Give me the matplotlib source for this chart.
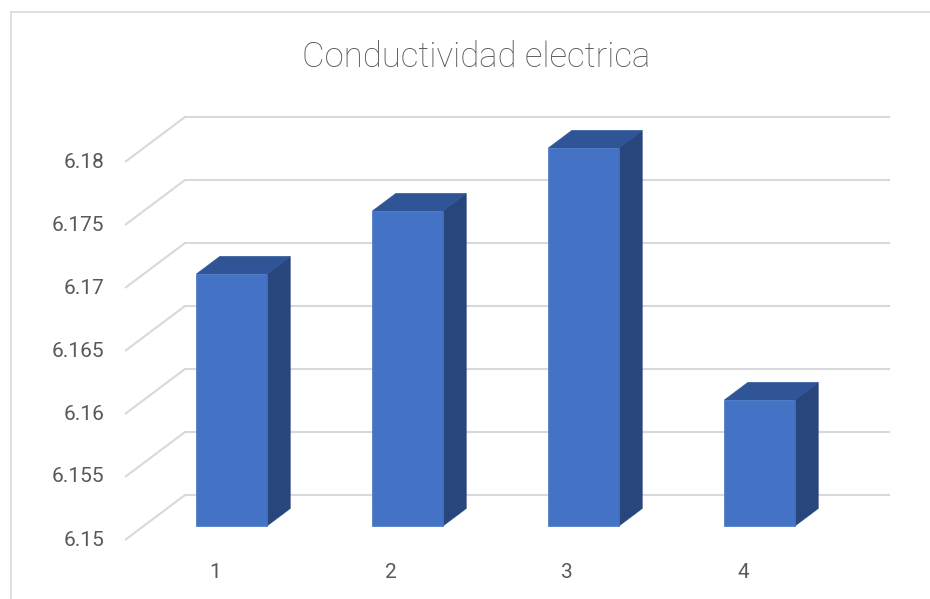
import matplotlib
matplotlib.use("Agg")
import matplotlib.pyplot as plt
from matplotlib.patches import Polygon
import numpy as np

categories = ["1", "2", "3", "4"]
values = [6.17, 6.175, 6.18, 6.16]
y_ticks = [6.15, 6.155, 6.16, 6.165, 6.17, 6.175, 6.18]
y_tick_labels = ["6.15", "6.155", "6.16", "6.165", "6.17", "6.175", "6.18"]
title = "Conductividad electrica"

ymin = 6.15
# oblique depth offsets (in data units) for full floor depth
DX = 60 / 176.0
DY = 45 / 63.0 * 0.005
d0, d1 = 0.31, 0.70   # bar front/back depth fraction
bw = 0.4              # bar width (category units)

fig = plt.figure(figsize=(9.3, 5.99), dpi=100)
ax = fig.add_axes([125/930, 59/599, 764/930, 423/599])
ax.set_xlim(0.5, 0.5 + 764/176)
ax.set_ylim(ymin, ymin + 423/63*0.005)
ax.axis("off")

txt_c = "#595959"
font = dict(family="Roboto", fontweight="normal")
grid_c = "#d9d9d9"
n = len(categories)
xr = 0.5 + n
for t, lab in zip(y_ticks, y_tick_labels):
    ax.plot([0.5, 0.5 + DX], [t, t + DY], color=grid_c, lw=1.5, zorder=1,
            solid_capstyle="butt", clip_on=False)
    ax.plot([0.5 + DX, xr + DX], [t + DY, t + DY], color=grid_c, lw=1.5,
            zorder=1, clip_on=False)
    ax.text(0.5 - 21/176, t, lab, ha="right", va="center", fontsize=15,
            color=txt_c, **font)

front_c = "#4472C4"
top_c = "#2F5597"
side_c = "#29467C"
for i, (c, v) in enumerate(zip(categories, values)):
    xc = i + 1
    xl = xc - bw/2 + d0*DX
    xrr = xc + bw/2 + d0*DX
    yb = ymin + d0*DY
    yt = v + d0*DY
    ddx = (d1 - d0)*DX
    ddy = (d1 - d0)*DY
    ax.add_patch(Polygon([(xrr, yb), (xrr + ddx, yb + ddy), (xrr + ddx, yt + ddy), (xrr, yt)],
                         closed=True, facecolor=side_c, edgecolor=side_c, lw=0.5, zorder=3))
    ax.add_patch(Polygon([(xl, yt), (xl + ddx, yt + ddy), (xrr + ddx, yt + ddy), (xrr, yt)],
                         closed=True, facecolor=top_c, edgecolor=top_c, lw=0.5, zorder=3))
    ax.add_patch(Polygon([(xl, yb), (xrr, yb), (xrr, yt), (xl, yt)],
                         closed=True, facecolor=front_c, edgecolor=front_c, lw=0.5, zorder=4))
    ax.text(xc + 2/176, ymin - 32/63*0.005, c, ha="center", va="center", fontsize=15,
            color=txt_c, **font)

fig.text(476/930, 1 - 57/599, title, ha="center", va="center", fontsize=25,
         color=txt_c, family="Roboto", fontweight="light")

# chart border (top and left visible)
fig.add_artist(plt.Line2D([11/930, 11/930], [0, 1 - 12/599], transform=fig.transFigure,
                          color="#d9d9d9", lw=1.2))
fig.add_artist(plt.Line2D([11/930, 1], [1 - 12/599, 1 - 12/599], transform=fig.transFigure,
                          color="#d9d9d9", lw=1.2))

fig.savefig("out.png", dpi=100)
